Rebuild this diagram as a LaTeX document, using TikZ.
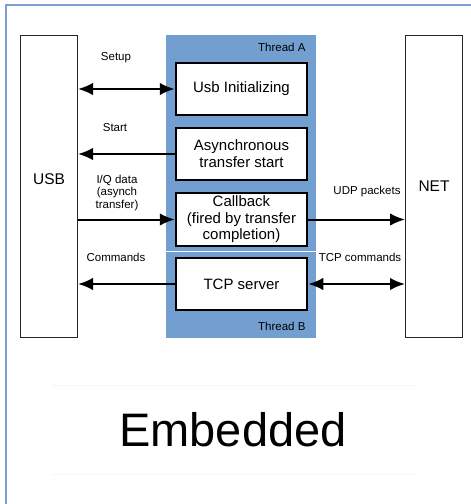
\documentclass[tikz,border=0pt]{standalone}
\usepackage{fontspec}
\setmainfont{Liberation Sans}
\usetikzlibrary{arrows.meta}
\definecolor{panelblue}{HTML}{729FCF}
\definecolor{framecol}{HTML}{7E9FD4}
\definecolor{faintcol}{HTML}{F2F8FA}
\begin{document}
\begin{tikzpicture}[x=1pt,y=-1pt,
  stepbox/.style={draw=black, line width=2.5pt, fill=white, align=center,
    minimum width=131pt, minimum height=52pt, inner sep=1pt,
    font=\fontsize{15}{17}\selectfont},
  endbox/.style={draw=black!85, line width=1pt, fill=white,
    minimum width=57pt, minimum height=302pt, inner sep=0pt},
  biglbl/.style={font=\fontsize{15.5}{18}\selectfont},
  smalllbl/.style={align=center, font=\fontsize{11.5}{12.5}\selectfont, inner sep=0pt},
  conn/.style={line width=2pt, -{Latex[length=15pt,width=12.5pt]}},
  biconn/.style={line width=2pt, {Latex[length=15pt,width=12.5pt]}-{Latex[length=15pt,width=12.5pt]}}
]
\useasboundingbox (0,0) rectangle (471,504);

% outer frame (left and top edges)
\draw[framecol, line width=1.3pt] (6,504) -- (6,5) -- (471,5);

% thread panel with separator between thread A and thread B
\fill[panelblue] (166,35) rectangle (316,338);
\draw[white, line width=1.5pt] (166,251.5) -- (316,251.5);
\node[font=\fontsize{11.5}{13}\selectfont, anchor=east] (thA) at (309,47) {Thread A};
\node[font=\fontsize{11.5}{13}\selectfont, anchor=east] (thB) at (309,326) {Thread B};

% end points
\node[endbox] (usb) at (49,186.5) {};
\node[biglbl] (usblbl) at (49,179) {USB};
\node[endbox] (net) at (434,186.5) {};
\node[biglbl] (netlbl) at (434,186) {NET};

% thread steps
\node[stepbox] (init) at (241.5,89) {Usb Initializing};
\node[stepbox] (async) at (241.5,154) {Asynchronous\\transfer start};
\node[stepbox, minimum height=53pt, inner sep=0pt,
  font=\fontsize{15}{16.5}\selectfont] (cb) at (241.5,219.5)
  {Callback\\(fired by transfer\\completion)};
\node[stepbox] (tcp) at (241.5,284) {TCP server};

% connectors
\draw[biconn] (init.west -| usb.east) -- (init.west);
\draw[conn] (async.west) -- (async.west -| usb.east);
\draw[conn] (cb.west -| usb.east) -- (cb.west);
\draw[conn] (cb.east) -- (cb.east -| net.west);
\draw[conn] (tcp.west) -- (tcp.west -| usb.east);
\draw[biconn] (tcp.east) -- (tcp.east -| net.west);

% connector labels
\node[smalllbl] (lsetup) at (116,58) {Setup};
\node[smalllbl] (lstart) at (115,128) {Start};
\node[smalllbl] (liq) at (117,193) {I/Q data\\(asynch\\transfer)};
\node[smalllbl] (lcmd) at (116,257) {Commands};
\node[smalllbl] (ludp) at (367,192) {UDP packets};
\node[smalllbl] (ltcp) at (360,257) {TCP commands};

% title
\draw[faintcol, line width=0.8pt] (52,385) -- (415,385);
\draw[faintcol, line width=0.8pt] (52,474) -- (415,474);
\node[font=\fontsize{47}{56}\selectfont] (emb) at (233,430) {Embedded};
\end{tikzpicture}
\end{document}
